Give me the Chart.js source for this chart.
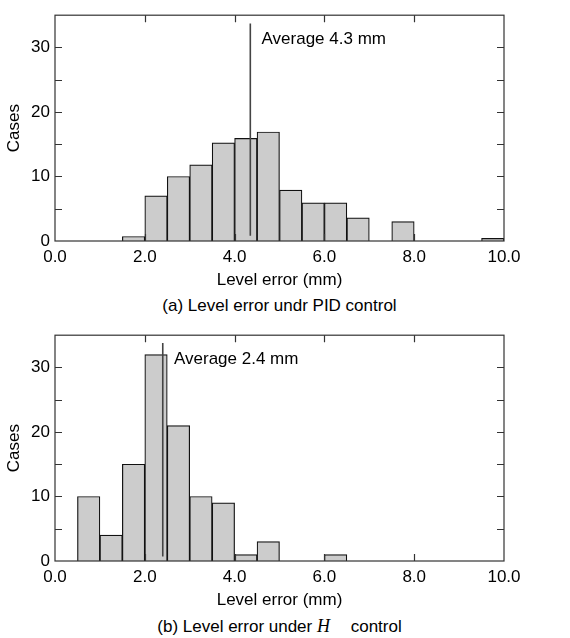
<!DOCTYPE html>
<html>
<head>
<meta charset="utf-8">
<script src="https://cdn.jsdelivr.net/npm/chart.js@4.4.1/dist/chart.umd.min.js"></script>
<style>
body { margin: 0; background: #fff; width: 570px; height: 638px; overflow: hidden; }
.block { width: 570px; height: 320px; }
canvas { display: block; }
.caption {
    font-family: "Liberation Sans", Arial, sans-serif;
    font-size: 17px;
    color: #000;
    width: 449px;
    margin-left: 55px;
    text-align: center;
    height: 28px;
    line-height: 28px;
}
.caption i { font-family: "Liberation Serif", "Times New Roman", serif; font-size: 18px; margin-right: 16px; }
</style>
</head>
<body>
<div class="block">
    <canvas id="pidChart" width="570" height="292"></canvas>
    <div class="caption">(a) Level error undr PID control</div>
</div>
<div class="block">
    <canvas id="hChart" width="570" height="292"></canvas>
    <div class="caption">(b) Level error under <i>H</i> control</div>
</div>
<script>
// Histogram bins: left edge of each bin (mm), each bin is 0.5 mm wide
const binStarts = [0.0, 0.5, 1.0, 1.5, 2.0, 2.5, 3.0, 3.5, 4.0, 4.5,
                   5.0, 5.5, 6.0, 6.5, 7.0, 7.5, 8.0, 8.5, 9.0, 9.5];
const binWidth = 0.5;

// Number of cases in each bin
const pidCases = [0, 0, 0, 0.7, 7, 10, 11.8, 15.2, 15.9, 16.9,
                  7.9, 5.9, 5.9, 3.6, 0, 3, 0, 0, 0, 0.4];
const hCases = [0, 10, 4, 15, 32, 21, 10, 9, 1, 3,
                0, 0, 1, 0, 0, 0, 0, 0, 0, 0];

// Averages (mm) and the span of the marker line (cases)
const pidAverage = 4.35;
const hAverage = 2.4;
const pidAvgSpan = [0.8, 33.7];
const hAvgSpan = [0.7, 33.8];
const pidAvgLabel = 'Average 4.3 mm';
const hAvgLabel = 'Average 2.4 mm';

// Axis ticks
const xTicks = [0, 2, 4, 6, 8, 10];
const xTickLabels = ['0.0', '2.0', '4.0', '6.0', '8.0', '10.0'];
const yTicks = [0, 10, 20, 30];
const xInnerTicks = [2, 4, 6, 8];
const yInnerTicks = [5, 10, 15, 20, 25, 30];

const FONT = '"Liberation Sans", Arial, sans-serif';
Chart.defaults.color = '#000';
Chart.defaults.font.family = FONT;
Chart.defaults.font.size = 17;

// Frame around the plot, inward tick marks and the "Average" label
const frameTicks = {
    id: 'frameTicks',
    afterDatasetsDraw(chart, args, opts) {
        const ctx = chart.ctx;
        const a = chart.chartArea;
        const x = chart.scales.x;
        const y = chart.scales.y;
        ctx.save();
        ctx.strokeStyle = '#333';
        ctx.lineWidth = 1.2;
        ctx.strokeRect(a.left, a.top, a.right - a.left, a.bottom - a.top);
        ctx.beginPath();
        xInnerTicks.forEach(v => {
            const px = Math.round(x.getPixelForValue(v)) + 0.5;
            ctx.moveTo(px, a.bottom); ctx.lineTo(px, a.bottom - 7);
            ctx.moveTo(px, a.top); ctx.lineTo(px, a.top + 7);
        });
        yInnerTicks.forEach(v => {
            const py = Math.round(y.getPixelForValue(v)) + 0.5;
            ctx.moveTo(a.left, py); ctx.lineTo(a.left + 7, py);
            ctx.moveTo(a.right, py); ctx.lineTo(a.right - 7, py);
        });
        ctx.stroke();

        ctx.fillStyle = '#000';
        ctx.font = '17px ' + FONT;
        ctx.textBaseline = 'middle';
        ctx.textAlign = 'left';
        ctx.fillText(opts.label, x.getPixelForValue(opts.average + 0.25), y.getPixelForValue(31.3));
        ctx.restore();
    }
};

function histogram(canvasId, cases, average, span, label) {
    const ctx = document.getElementById(canvasId).getContext('2d');

    const data = {
        datasets: [
            {
                type: 'line',
                data: [{ x: average, y: span[0] }, { x: average, y: span[1] }],
                borderColor: '#444',
                borderWidth: 1.6,
                pointRadius: 0,
                order: 0
            },
            {
                type: 'bar',
                data: binStarts.map((b, i) => ({ x: b + binWidth / 2, y: cases[i] })),
                backgroundColor: '#cccccc',
                borderColor: '#111',
                borderWidth: 1.2,
                barPercentage: 1,
                categoryPercentage: 1,
                order: 1
            }
        ]
    };

    const options = {
        responsive: false,
        animation: false,
        layout: { padding: { top: 12, right: 66, left: 0, bottom: 0 } },
        plugins: {
            legend: { display: false },
            tooltip: { enabled: false },
            frameTicks: { average: average, label: label }
        },
        scales: {
            x: {
                type: 'linear',
                min: 0,
                max: 10,
                offset: false,
                grid: { display: false, drawTicks: false, offset: false },
                border: { display: false },
                afterBuildTicks: axis => { axis.ticks = xTicks.map(v => ({ value: v })); },
                afterFit: axis => { axis.height = 51; },
                ticks: {
                    padding: 6,
                    maxRotation: 0,
                    autoSkip: false,
                    callback: (v, i) => xTickLabels[i]
                },
                title: {
                    display: true,
                    text: 'Level error (mm)',
                    padding: { top: 0, bottom: 1 }
                }
            },
            y: {
                min: 0,
                max: 35,
                grid: { display: false, drawTicks: false },
                border: { display: false },
                afterBuildTicks: axis => { axis.ticks = yTicks.map(v => ({ value: v })); },
                afterFit: axis => { axis.width = 55; },
                ticks: { padding: 5 },
                title: {
                    display: true,
                    text: 'Cases',
                    padding: { top: 4, bottom: 0 }
                }
            }
        }
    };

    return new Chart(ctx, { type: 'bar', data: data, options: options, plugins: [frameTicks] });
}

histogram('pidChart', pidCases, pidAverage, pidAvgSpan, pidAvgLabel);
histogram('hChart', hCases, hAverage, hAvgSpan, hAvgLabel);
</script>
</body>
</html>
